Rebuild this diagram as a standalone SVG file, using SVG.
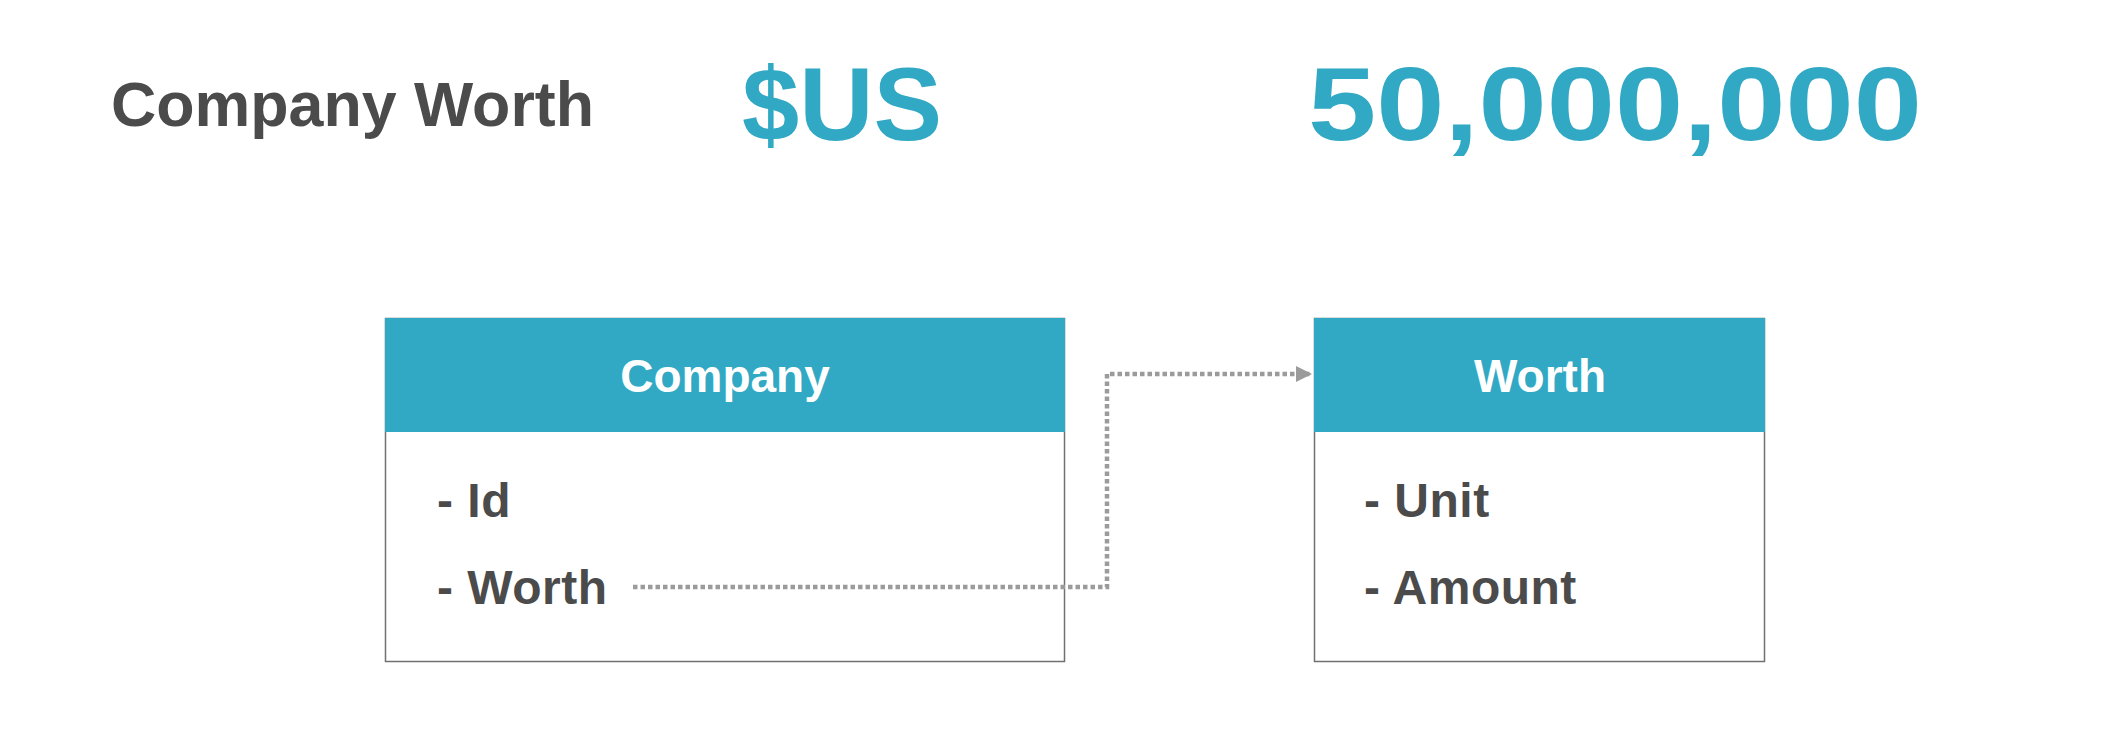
<svg xmlns="http://www.w3.org/2000/svg" width="2104" height="732" viewBox="0 0 2104 732">
  <defs>
    <marker id="arrow" viewBox="0 0 10 10" refX="10" refY="5" markerWidth="3.6" markerHeight="3.6" orient="auto" markerUnits="strokeWidth">
      <path d="M0,0 L10,5 L0,10 Z" fill="#9b9b9b"/>
    </marker>
    <style>
      text { font-family: "Liberation Sans", Arial, sans-serif; font-weight: bold; }
      .title { fill: #4b4b4b; font-size: 63px; }
      .big { fill: #31a9c5; font-size: 104px; }
      .hdr { fill: #31a9c5; }
      .body { fill: #ffffff; stroke: #707070; stroke-width: 1.5; }
      .htext { fill: #ffffff; font-size: 46px; text-anchor: middle; }
      .attr { fill: #4b4b4b; font-size: 48px; letter-spacing: 0.5px; }
      .conn { fill: none; stroke: #9b9b9b; stroke-width: 4.5; stroke-dasharray: 4.5 3; }
    </style>
  </defs>
  <rect width="2104" height="732" fill="#ffffff"/>

  <g id="heading">
    <text class="title" x="111" y="126" textLength="483" lengthAdjust="spacingAndGlyphs">Company Worth</text>
    <text class="big" x="742" y="140" textLength="200" lengthAdjust="spacingAndGlyphs">$US</text>
    <text class="big" x="1308" y="140" textLength="614" lengthAdjust="spacingAndGlyphs">50,000,000</text>
  </g>

  <g id="node-company">
    <rect class="body" x="385.5" y="318.5" width="679" height="343"/>
    <rect class="hdr" x="385" y="318" width="680" height="114"/>
    <text class="htext" x="725" y="392">Company</text>
    <text class="attr" x="437" y="517">- Id</text>
    <text class="attr" x="437" y="604">- Worth</text>
  </g>

  <g id="node-worth">
    <rect class="body" x="1314.5" y="318.5" width="450" height="343"/>
    <rect class="hdr" x="1314" y="318" width="451" height="114"/>
    <text class="htext" x="1540" y="392">Worth</text>
    <text class="attr" x="1364" y="517">- Unit</text>
    <text class="attr" x="1364" y="604">- Amount</text>
  </g>

  <g id="connectors">
    <path class="conn" d="M633,587 L1107,587 L1107,374 L1312,374" marker-end="url(#arrow)"/>
  </g>
</svg>
